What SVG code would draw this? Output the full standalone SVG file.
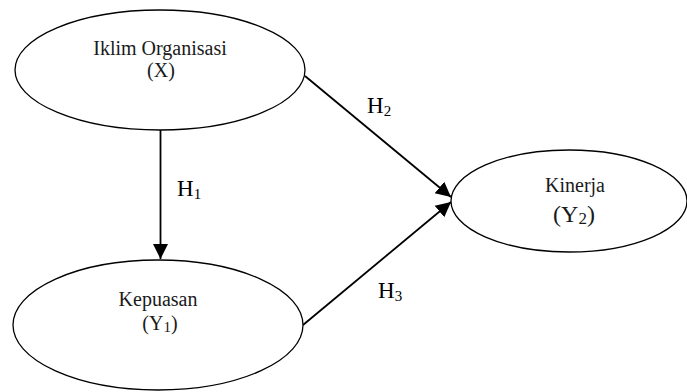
<svg xmlns="http://www.w3.org/2000/svg" width="687" height="392" viewBox="0 0 687 392">
<style>
.node ellipse{fill:#fff;stroke:#000;stroke-width:1.3}
.t{font-family:"Liberation Serif","Times New Roman",serif;font-size:20px;fill:#1a1a1a;text-anchor:middle}
.h{font-family:"Liberation Serif","Times New Roman",serif;font-size:23px;fill:#000}
.sub{font-size:15px}
.conn line{stroke:#000;stroke-width:1.8;marker-end:url(#ah)}
</style>
<defs>
<marker id="ah" markerUnits="userSpaceOnUse" markerWidth="16" markerHeight="16" refX="15" refY="8" orient="auto">
<path d="M0,0.5 L15,8 L0,15.5 Z" fill="#000"/>
</marker>
</defs>
<rect width="687" height="392" fill="#fff"/>
<g class="conn">
<line x1="160.5" y1="130" x2="160.5" y2="259"/>
<line x1="305" y1="76" x2="451" y2="197"/>
<line x1="303" y1="325" x2="451" y2="202"/>
</g>
<g id="iklim" class="node">
<ellipse cx="160" cy="70" rx="145" ry="60"/>
<text class="t" x="160" y="55">Iklim Organisasi</text>
<text class="t" x="161" y="77">(X)</text>
</g>
<g id="kepuasan" class="node">
<ellipse cx="158" cy="325" rx="145" ry="65"/>
<text class="t" x="158" y="306">Kepuasan</text>
<text class="t" x="160" y="330">(Y<tspan class="sub" dy="2">1</tspan><tspan dy="-2">)</tspan></text>
</g>
<g id="kinerja" class="node">
<ellipse cx="569" cy="201" rx="118" ry="51"/>
<text class="t" x="575" y="192">Kinerja</text>
<text class="t" x="574" y="222" style="font-size:24px">(Y<tspan class="sub" style="font-size:17px" dy="2">2</tspan><tspan dy="-2">)</tspan></text>
</g>
<g id="labels">
<text class="h" x="177" y="196">H<tspan class="sub" dy="3">1</tspan></text>
<text class="h" x="367" y="113">H<tspan class="sub" dy="3">2</tspan></text>
<text class="h" x="378" y="298">H<tspan class="sub" dy="3">3</tspan></text>
</g>
</svg>
